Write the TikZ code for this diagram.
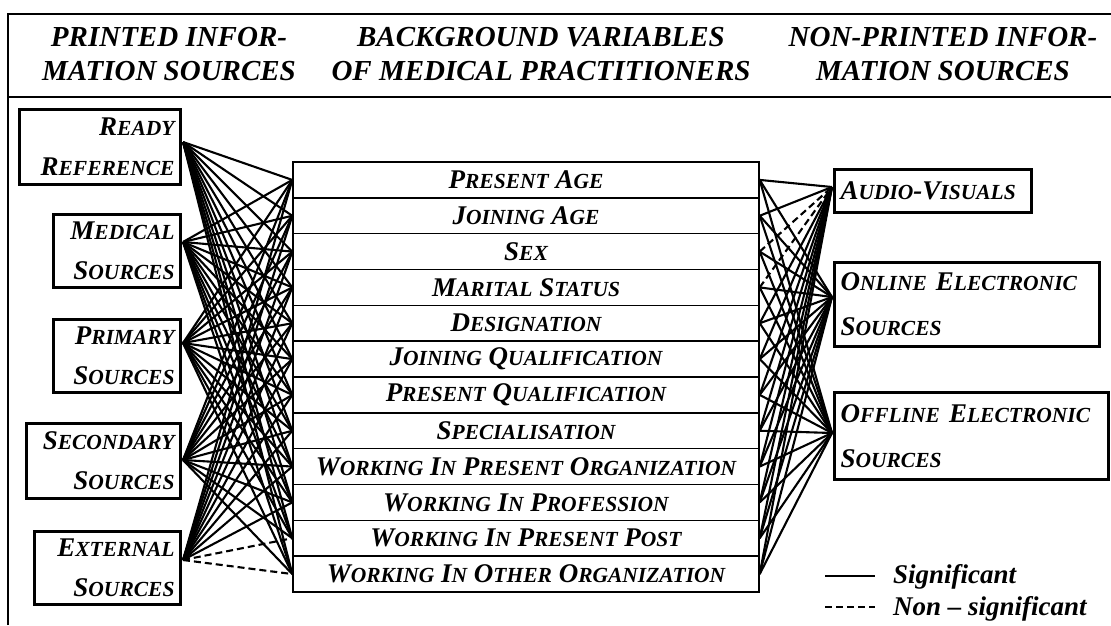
\documentclass[tikz,border=0pt]{standalone}
\usepackage{fontspec}
\setmainfont{Liberation Serif}
\newcommand\smallcapsize{\fontsize{21.5}{21.5}\selectfont}
\newcommand\sw[2]{#1{\smallcapsize #2}}
\begin{document}
\begin{tikzpicture}
[x=1pt,y=-1pt,
  frameLine/.style={line width=1.6pt},%
  headText/.style={font=\bfseries\itshape\fontsize{29}{34}\selectfont,align=center},%
  srcBox/.style={draw,line width=3pt,font=\bfseries\itshape\fontsize{27}{40}\selectfont,inner xsep=6pt,inner ysep=0pt},%
  rowBox/.style={draw,line width=1.4pt,minimum width=466pt,minimum height=35.83pt,inner sep=0pt,font=\bfseries\itshape\fontsize{27}{30}\selectfont},%
  keyText/.style={font=\bfseries\itshape\fontsize{27}{30}\selectfont,inner sep=0pt},%
  lineDecorate/.style={-,line width=2.1pt},%
  dashDecorate/.style={-,line width=2.1pt,dash pattern=on 7pt off 4pt}]
\useasboundingbox (0,0) rectangle (1111,625);
%% frame
\draw[frameLine] (8,625) -- (8,14) -- (1111,14);
\draw[line width=2.6pt] (8,97) -- (1111,97);
%% headings
\node (headPrinted) at (169,54) [headText] {PRINTED INFOR-\\MATION SOURCES};
\node (headBackground) at (541,54) [headText] {BACKGROUND VARIABLES\\OF MEDICAL PRACTITIONERS};
\node (headNonPrinted) at (943,54) [headText] {NON-PRINTED INFOR-\\MATION SOURCES};
%% printed sources
\foreach \nodename/\yt/\bw/\bh/\outy/\srctext in
  {ready/108/161/75/142/{\sw{R}{EADY}\\\sw{R}{EFERENCE}},
   medical/213/127/73/242/{\sw{M}{EDICAL}\\\sw{S}{OURCES}},
   primary/318/127/73/343/{\sw{P}{RIMARY}\\\sw{S}{OURCES}},
   secondary/422/154/75/460/{\sw{S}{ECONDARY}\\\sw{S}{OURCES}},
   external/530/146/73/560/{\sw{E}{XTERNAL}\\\sw{S}{OURCES}}}
{
  \pgfmathsetmacro\tw{\bw-12}
  \node (\nodename) at (182,\yt) [srcBox,anchor=north east,minimum height=\bh pt,
    text width=\tw pt,align=right] {\srctext};
  \coordinate (\nodename Out) at (183,\outy);
}
%% background variables
\foreach \r/\rowtext in
  {1/{\sw{P}{RESENT} \sw{A}{GE}},
   2/{\sw{J}{OINING} \sw{A}{GE}},
   3/{\sw{S}{EX}},
   4/{\sw{M}{ARITAL} \sw{S}{TATUS}},
   5/{\sw{D}{ESIGNATION}},
   6/{\sw{J}{OINING} \sw{Q}{UALIFICATION}},
   7/{\sw{P}{RESENT} \sw{Q}{UALIFICATION}},
   8/{\sw{S}{PECIALISATION}},
   9/{\sw{W}{ORKING} \sw{I}{N} \sw{P}{RESENT} \sw{O}{RGANIZATION}},
   10/{\sw{W}{ORKING} \sw{I}{N} \sw{P}{ROFESSION}},
   11/{\sw{W}{ORKING} \sw{I}{N} \sw{P}{RESENT} \sw{P}{OST}},
   12/{\sw{W}{ORKING} \sw{I}{N} \sw{O}{THER} \sw{O}{RGANIZATION}}}
{
  \pgfmathsetmacro\ry{162+(\r-0.5)*35.83}
  \node (row\r) at (526,\ry) [rowBox] {\rowtext};
}
%% non-printed sources
\foreach \nodename/\yt/\bw/\bh/\iny/\srctext in
  {audiovisual/168/197/43/187/{\sw{A}{UDIO}-\sw{V}{ISUALS}},
   online/261/265/84/297/{\sw{O}{NLINE} \sw{E}{LECTRONIC}\\\sw{S}{OURCES}},
   offline/391/274/87/433/{\sw{O}{FFLINE} \sw{E}{LECTRONIC}\\\sw{S}{OURCES}}}
{
  \pgfmathsetmacro\tw{\bw-12}
  \node (\nodename) at (833,\yt) [srcBox,anchor=north west,minimum height=\bh pt,
    text width=\tw pt,align=left,font=\bfseries\itshape\fontsize{27}{45}\selectfont] {\srctext};
  \coordinate (\nodename In) at (832,\iny);
}
%% edges, printed side
\path
\foreach \startnode in {ready,medical,primary,secondary}
{
  \foreach \r in {1,...,12}
  {
    (\startnode Out) edge[lineDecorate] (row\r.west)
  }
}
\foreach \r in {1,...,10}
{
  (externalOut) edge[lineDecorate] (row\r.west)
}
\foreach \r in {11,12}
{
  (externalOut) edge[dashDecorate] (row\r.west)
};
%% edges, non-printed side
\path
\foreach \endnode in {online,offline}
{
  \foreach \r in {1,...,12}
  {
    (row\r.east) edge[lineDecorate] (\endnode In)
  }
}
\foreach \r in {1,2,5,6,7,8,9,10,11,12}
{
  (row\r.east) edge[lineDecorate] (audiovisualIn)
}
\foreach \r in {3,4}
{
  (row\r.east) edge[dashDecorate] (audiovisualIn)
};
%% key
\coordinate (keySolidA) at (825,576);
\coordinate (keySolidB) at (875,576);
\coordinate (keyDashA) at (825,607);
\coordinate (keyDashB) at (875,607);
\draw[lineDecorate] (keySolidA) -- (keySolidB);
\draw[dashDecorate] (keyDashA) -- (keyDashB);
\node (keySignificant) at (893,583) [keyText,anchor=base west] {Significant};
\node (keyNonSignificant) at (893,615) [keyText,anchor=base west] {Non -- significant};
\end{tikzpicture}
\end{document}
